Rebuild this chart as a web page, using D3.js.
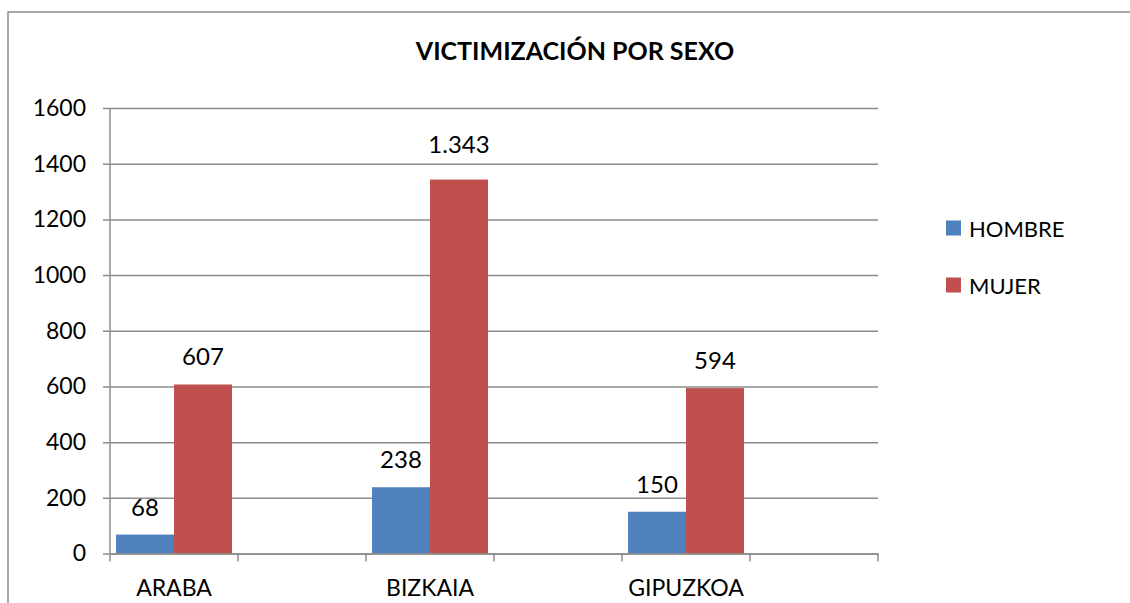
<!DOCTYPE html>
<html>
<head>
<meta charset="utf-8">
<script src="https://cdn.jsdelivr.net/npm/d3@7"></script>
<style>
  html, body { margin: 0; padding: 0; background: #fff; }
  svg { display: block; font-family: Lato, "Open Sans", sans-serif; }
</style>
</head>
<body>
<svg id="chart" width="1130" height="603"></svg>
<script>
// ---- data ----
const categories = ["ARABA", "", "BIZKAIA", " ", "GIPUZKOA", "  "];
const seriesNames = ["HOMBRE", "MUJER"];
const hombre = [68, null, 238, null, 150, null];
const mujer = [607, null, 1343, null, 594, null];
const yTicks = [0, 200, 400, 600, 800, 1000, 1200, 1400, 1600];
const title = "VICTIMIZACIÓN POR SEXO";
const colors = ["#4F81BD", "#C0504D"];

const svg = d3.select("#chart");
const gridColor = "#8c8c8c";

// chart frame
svg.append("rect")
  .attr("x", 8).attr("y", 12)
  .attr("width", 1300).attr("height", 800)
  .attr("fill", "none").attr("stroke", gridColor).attr("stroke-width", 1.5);

const plot = { left: 110, right: 878, top: 108, bottom: 553.5 };

const x = d3.scaleBand().domain(categories).range([plot.left, plot.right]).paddingInner(0).paddingOuter(0);
const xs = d3.scaleBand().domain(seriesNames).range([0, x.bandwidth()]).paddingInner(0).paddingOuter(0.1034);
const y = d3.scaleLinear().domain([0, 1600]).range([plot.bottom, plot.top]);

// gridlines + y ticks
const yAxis = d3.axisLeft(y).tickValues(yTicks).tickSize(-(plot.right - plot.left)).tickPadding(24).tickFormat(d3.format("d"));
const gy = svg.append("g").attr("transform", `translate(${plot.left},0)`).call(yAxis);
gy.select(".domain").remove();
gy.selectAll(".tick line").attr("x1", -7).attr("stroke", gridColor).attr("stroke-width", 1.5);
gy.selectAll(".tick text").attr("font-size", 23).attr("fill", "#000").attr("font-family", "Lato, sans-serif");

// vertical axis line
svg.append("line")
  .attr("x1", plot.left).attr("x2", plot.left)
  .attr("y1", plot.top).attr("y2", plot.bottom)
  .attr("stroke", gridColor).attr("stroke-width", 1.5);

// bars
const data = [hombre, mujer];
const fmt = d3.formatLocale({ decimal: ",", thousands: ".", grouping: [3], currency: ["", "€"] }).format(",d");
// label gap above bar (px); the tallest label sits a little higher in the original
const labelGap = v => (v > 1000 ? 27 : 19);
seriesNames.forEach((s, si) => {
  const vals = data[si];
  const g = svg.append("g");
  const items = categories.map((c, i) => ({ c, v: vals[i] })).filter(d => d.v != null);
  g.selectAll("rect").data(items).enter().append("rect")
    .attr("x", d => x(d.c) + xs(s))
    .attr("width", xs.bandwidth())
    .attr("y", d => y(d.v))
    .attr("height", d => y(0) - y(d.v))
    .attr("fill", colors[si]);
  g.selectAll("text").data(items).enter().append("text")
    .attr("x", d => x(d.c) + xs(s) + xs.bandwidth() / 2)
    .attr("y", d => y(d.v) - labelGap(d.v))
    .attr("text-anchor", "middle")
    .attr("font-size", 24)
    .attr("fill", "#000")
    .text(d => fmt(d.v));
});

// x axis
const xAxis = d3.axisBottom(x).tickSize(0).tickFormat(d => d.trim());
const gx = svg.append("g").attr("transform", `translate(0,${plot.bottom})`).call(xAxis);
gx.select(".domain").attr("stroke", gridColor).attr("stroke-width", 1.5);
gx.selectAll(".tick text").attr("font-size", 23).attr("fill", "#000").attr("font-family", "Lato, sans-serif").attr("dy", "1.72em");
gx.selectAll(".tick line").remove();
// category boundary ticks
const bounds = categories.map(c => x(c)).concat([plot.right]);
svg.append("g").selectAll("line").data(bounds).enter().append("line")
  .attr("x1", d => d).attr("x2", d => d)
  .attr("y1", plot.bottom).attr("y2", plot.bottom + 8)
  .attr("stroke", gridColor).attr("stroke-width", 1.5);

// title
svg.append("text")
  .attr("x", 575).attr("y", 60)
  .attr("text-anchor", "middle")
  .attr("font-size", 25).attr("font-weight", "bold")
  .attr("fill", "#000")
  .text(title);

// legend
const legend = svg.append("g");
const ly = d3.scalePoint().domain(seriesNames).range([228, 285]);
seriesNames.forEach((s, i) => {
  legend.append("rect")
    .attr("x", 946).attr("y", ly(s) - 7.5)
    .attr("width", 15).attr("height", 15)
    .attr("fill", colors[i]);
  legend.append("text")
    .attr("x", 969).attr("y", ly(s) + 9)
    .attr("font-size", 22).attr("fill", "#000")
    .text(s);
});
</script>
</body>
</html>
